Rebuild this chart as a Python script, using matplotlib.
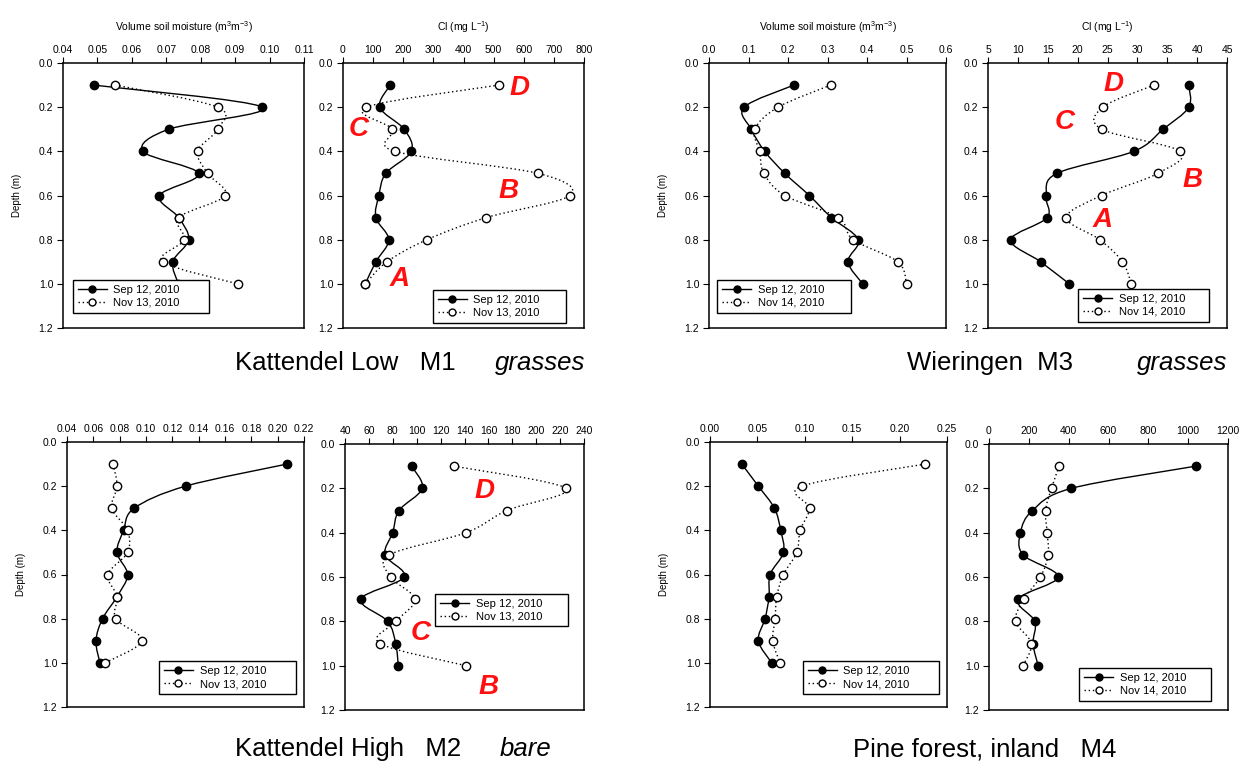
"""Soil moisture and Cl depth profiles at four sites (Sep vs Nov 2010)."""

import matplotlib

matplotlib.use("Agg")
import matplotlib.pyplot as plt
import numpy as np
from matplotlib.lines import Line2D
from matplotlib.patches import PathPatch
from matplotlib.path import Path

plt.rcParams.update(
    {
        "font.family": ["Liberation Sans", "DejaVu Sans"],
        "mathtext.default": "regular",
        "axes.linewidth": 1.1,
        "xtick.major.size": 4,
        "ytick.major.size": 4,
        "xtick.direction": "out",
        "ytick.direction": "out",
        "xtick.labelsize": 7.5,
        "ytick.labelsize": 7.5,
    }
)

W, H = 1251, 765

DEPTH = [0.1, 0.2, 0.3, 0.4, 0.5, 0.6, 0.7, 0.8, 0.9, 1.0]
DEPTH_TICKS = [0.0, 0.2, 0.4, 0.6, 0.8, 1.0, 1.2]

# Kattendel Low M1
M1_MOIST_SEP = [0.0489, 0.0979, 0.0707, 0.0632, 0.0794, 0.0680, 0.0736, 0.0765, 0.0719, 0.0735]
M1_MOIST_NOV = [0.0552, 0.0849, 0.0849, 0.0791, 0.0820, 0.0871, 0.0736, 0.0752, 0.0690, 0.0907]
M1_CL_SEP = [157, 122, 203, 227, 142, 119, 109, 152, 109, 74]
M1_CL_NOV = [517, 78, 164, 172, 648, 753, 476, 279, 146, 74]

# Wieringen M3
M3_MOIST_SEP = [0.215, 0.089, 0.107, 0.141, 0.192, 0.254, 0.310, 0.378, 0.352, 0.389]
M3_MOIST_NOV = [0.308, 0.175, 0.116, 0.128, 0.139, 0.192, 0.327, 0.365, 0.478, 0.500]
M3_CL_SEP = [38.6, 38.6, 34.3, 29.4, 16.5, 14.7, 14.9, 8.8, 13.8, 18.6]
M3_CL_NOV = [32.8, 24.2, 24.0, 37.2, 33.4, 24.0, 18.1, 23.7, 27.5, 29.0]

# Kattendel High M2
M2_MOIST_SEP = [0.207, 0.130, 0.091, 0.083, 0.078, 0.086, 0.078, 0.067, 0.062, 0.065]
M2_MOIST_NOV = [0.075, 0.078, 0.074, 0.086, 0.086, 0.071, 0.078, 0.077, 0.097, 0.069]
M2_CL_SEP = [95.8, 104.7, 85.2, 79.9, 73.5, 89.4, 53.1, 75.7, 82.4, 84.6]
M2_CL_NOV = [131.2, 224.7, 175.3, 141.3, 77.1, 78.2, 98.6, 82.7, 69.3, 141.3]

# Pine forest, inland M4
M4_MOIST_SEP = [0.0335, 0.051, 0.068, 0.0746, 0.0775, 0.0634, 0.0623, 0.0581, 0.051, 0.0651]
M4_MOIST_NOV = [0.227, 0.0968, 0.105, 0.0951, 0.0915, 0.0775, 0.0704, 0.0687, 0.0662, 0.0739]
M4_CL_SEP = [1038, 414, 218, 158, 171, 347, 146, 230, 221, 247]
M4_CL_NOV = [352, 314, 284, 292, 297, 258, 174, 134, 213, 171]

# x tick labels
M1_MOIST_TICKS = ["0.04", "0.05", "0.06", "0.07", "0.08", "0.09", "0.10", "0.11"]
M1_CL_TICKS = ["0", "100", "200", "300", "400", "500", "600", "700", "800"]
M3_MOIST_TICKS = ["0.0", "0.1", "0.2", "0.3", "0.4", "0.5", "0.6"]
M3_CL_TICKS = ["5", "10", "15", "20", "25", "30", "35", "40", "45"]
M2_MOIST_TICKS = ["0.04", "0.06", "0.08", "0.10", "0.12", "0.14", "0.16", "0.18", "0.20", "0.22"]
M2_CL_TICKS = ["40", "60", "80", "100", "120", "140", "160", "180", "200", "220", "240"]
M4_MOIST_TICKS = ["0.00", "0.05", "0.10", "0.15", "0.20", "0.25"]
M4_CL_TICKS = ["0", "200", "400", "600", "800", "1000", "1200"]

# red zone letters: (letter, x, depth)
M1_CL_ZONES = [("D", 585, 0.115), ("C", 52, 0.30), ("B", 551, 0.58), ("A", 188, 0.98)]
M3_CL_ZONES = [("D", 26.0, 0.097), ("C", 17.9, 0.266), ("B", 39.3, 0.531), ("A", 24.1, 0.711)]
M2_CL_ZONES = [("D", 156.6, 0.214), ("C", 103.6, 0.854), ("B", 160.2, 1.098)]

MOIST_LABEL = "Volume soil moisture (m$^3$m$^{-3}$)"
CL_LABEL = "Cl (mg L$^{-1}$)"


def px_rect(x0, y0, x1, y1):
    return [x0 / W, 1 - y1 / H, (x1 - x0) / W, (y1 - y0) / H]


def smooth_path(x, y):
    pts = np.column_stack([x, y]).astype(float)
    ext = np.vstack([pts[0], pts, pts[-1]])
    verts = [pts[0]]
    codes = [Path.MOVETO]
    for i in range(len(pts) - 1):
        p0, p1, p2, p3 = ext[i], ext[i + 1], ext[i + 2], ext[i + 3]
        verts += [p1 + (p2 - p0) / 6, p2 - (p3 - p1) / 6, p2]
        codes += [Path.CURVE4] * 3
    return Path(verts, codes)


def panel(fig, rect, sep, nov, ticks, nov_label, leg_box, xlabel=None, depth_label=False, zones=()):
    ax = fig.add_axes(rect)
    vals = [float(t) for t in ticks]
    ax.set_xlim(vals[0], vals[-1])
    ax.set_ylim(1.2, 0.0)
    ax.set_xticks(vals)
    ax.set_xticklabels(ticks)
    ax.set_yticks(DEPTH_TICKS)
    ax.set_yticklabels([f"{d:.1f}" for d in DEPTH_TICKS])
    ax.xaxis.tick_top()
    ax.tick_params(axis="x", top=True, bottom=False, pad=2)
    ax.tick_params(axis="y", left=True, right=False, pad=3)

    ax.add_patch(PathPatch(smooth_path(sep, DEPTH), fill=False, ec="black", lw=1.0, zorder=2))
    ax.add_patch(PathPatch(smooth_path(nov, DEPTH), fill=False, ec="black", lw=1.0,
                           ls=(0, (1, 2)), zorder=2))
    ax.plot(sep, DEPTH, ls="none", marker="o", ms=6, mfc="black", mec="black", zorder=3)
    ax.plot(nov, DEPTH, ls="none", marker="o", ms=6, mfc="white", mec="black", mew=1, zorder=3)

    handles = [
        Line2D([], [], color="black", lw=1, marker="o", ms=5, mfc="black"),
        Line2D([], [], color="black", lw=1, ls=(0, (1, 2)), marker="o", ms=5, mfc="white"),
    ]
    leg = ax.legend(handles, ["Sep 12, 2010", nov_label], loc="lower left",
                    bbox_to_anchor=leg_box, mode="expand", borderaxespad=0,
                    fontsize=8, handlelength=2.6, handletextpad=0.6, labelspacing=0.25,
                    borderpad=0.45, fancybox=False, framealpha=1, edgecolor="black")
    leg.get_frame().set_linewidth(1.0)

    for letter, x, d in zones:
        ax.text(x, d, letter, color="#FF1010", fontsize=20, fontweight="bold",
                fontstyle="italic", ha="center", va="center", zorder=4)

    if xlabel:
        ax.set_xlabel(xlabel, fontsize=7.5, labelpad=10)
        ax.xaxis.set_label_position("top")
    if depth_label:
        ax.set_ylabel("Depth (m)", fontsize=7, labelpad=12)
    return ax


fig = plt.figure(figsize=(W / 100, H / 100), dpi=100)

panel(fig, px_rect(63, 63, 304, 328), M1_MOIST_SEP, M1_MOIST_NOV, M1_MOIST_TICKS,
      "Nov 13, 2010", (0.041, 0.057, 0.565, 0.1), xlabel=MOIST_LABEL, depth_label=True)
panel(fig, px_rect(343, 63, 584, 328), M1_CL_SEP, M1_CL_NOV, M1_CL_TICKS,
      "Nov 13, 2010", (0.373, 0.019, 0.552, 0.1), xlabel=CL_LABEL, zones=M1_CL_ZONES)
panel(fig, px_rect(709, 63, 946, 328), M3_MOIST_SEP, M3_MOIST_NOV, M3_MOIST_TICKS,
      "Nov 14, 2010", (0.034, 0.057, 0.565, 0.1), xlabel=MOIST_LABEL, depth_label=True)
panel(fig, px_rect(988, 63, 1227, 328), M3_CL_SEP, M3_CL_NOV, M3_CL_TICKS,
      "Nov 14, 2010", (0.377, 0.023, 0.548, 0.1), xlabel=CL_LABEL, zones=M3_CL_ZONES)
panel(fig, px_rect(67, 442, 304, 707), M2_MOIST_SEP, M2_MOIST_NOV, M2_MOIST_TICKS,
      "Nov 13, 2010", (0.388, 0.049, 0.578, 0.1), depth_label=True)
panel(fig, px_rect(345, 444, 584, 710), M2_CL_SEP, M2_CL_NOV, M2_CL_TICKS,
      "Nov 13, 2010", (0.377, 0.314, 0.557, 0.1), zones=M2_CL_ZONES)
panel(fig, px_rect(710, 442, 947, 707), M4_MOIST_SEP, M4_MOIST_NOV, M4_MOIST_TICKS,
      "Nov 14, 2010", (0.392, 0.049, 0.574, 0.1), depth_label=True)
panel(fig, px_rect(989, 444, 1228, 710), M4_CL_SEP, M4_CL_NOV, M4_CL_TICKS,
      "Nov 14, 2010", (0.377, 0.034, 0.552, 0.1))

# site captions
def caption(x, y, s, **kw):
    fig.text(x / W, 1 - y / H, s, fontsize=18.5, va="baseline", ha="left", **kw)


caption(235, 370, "Kattendel Low   M1")
caption(495, 370, "grasses", fontstyle="italic")
caption(907, 370, "Wieringen  M3")
caption(1137, 370, "grasses", fontstyle="italic")
caption(235, 756, "Kattendel High   M2")
caption(500, 756, "bare", fontstyle="italic")
caption(853, 756, "Pine forest, inland   M4")

fig.savefig("out.png", dpi=100, facecolor="white")
